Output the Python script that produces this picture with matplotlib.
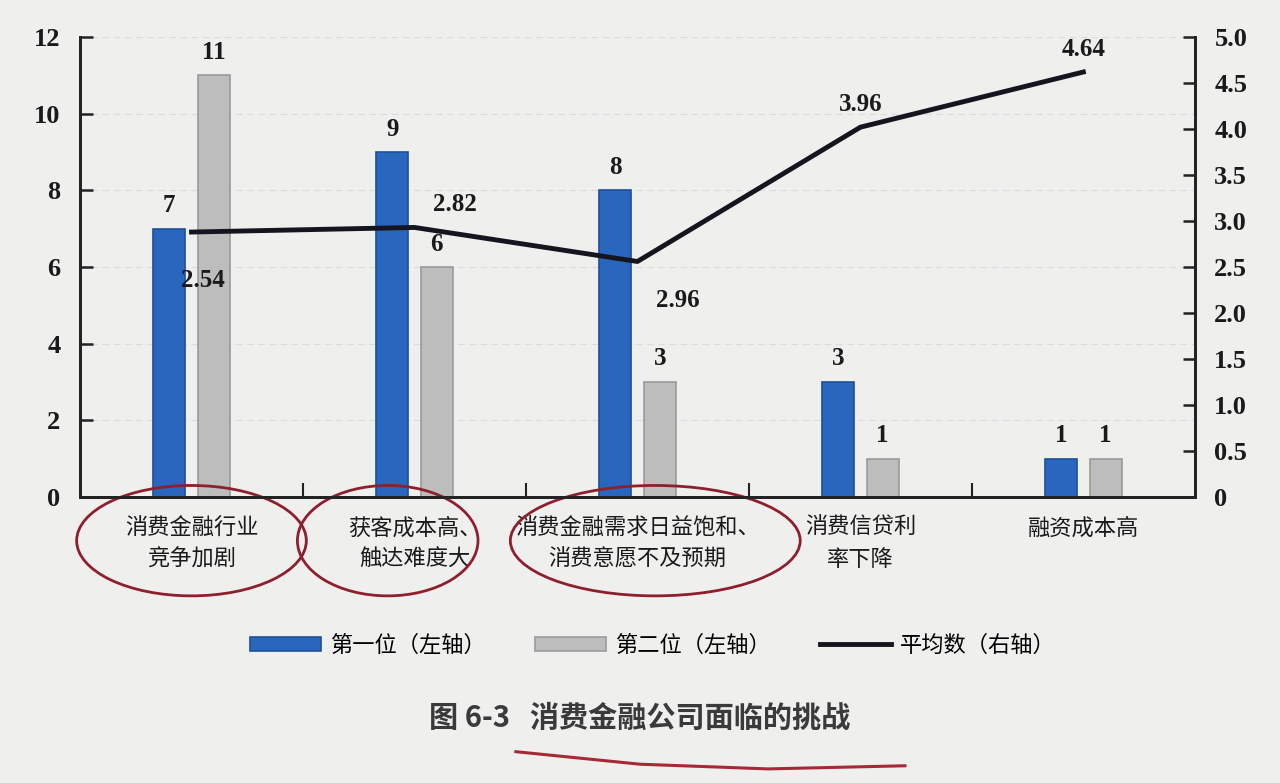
import matplotlib.pyplot as plt
import numpy as np
from matplotlib.patches import Ellipse
from matplotlib.ticker import FuncFormatter
import matplotlib.transforms as mtransforms

plt.rcParams['font.family'] = ['Noto Sans CJK SC', 'DejaVu Sans']

# data
categories = ["消费金融行业\n竞争加剧", "获客成本高、\n触达难度大",
              "消费金融需求日益饱和、\n消费意愿不及预期", "消费信贷利\n率下降", "融资成本高"]
first = [7, 9, 8, 3, 1]
second = [11, 6, 3, 1, 1]
avg = [2.88, 2.93, 2.56, 4.02, 4.62]
avg_labels = ["2.54", "2.82", "2.96", "3.96", "4.64"]

num_font = ['Liberation Serif', 'Noto Sans CJK SC']
bg = "#efefee"

fig = plt.figure(figsize=(12.8, 7.83), dpi=100, facecolor=bg)
ax = fig.add_axes([0.0625, 0.3653, 0.871, 0.5874])
ax.set_facecolor(bg)
ax2 = ax.twinx()

x = np.arange(len(categories))
w = 0.145
b1 = ax.bar(x - 0.1, first, w, color="#2867bd", edgecolor="#1d4f9c", linewidth=1.2,
            label="第一位（左轴）", zorder=2)
b2 = ax.bar(x + 0.1, second, w, color="#bdbdbd", edgecolor="#9a9a9a", linewidth=1.2,
            label="第二位（左轴）", zorder=2)

for i in range(len(x)):
    ax.text(x[i] - 0.1, first[i] + 0.3, str(first[i]), ha="center", va="bottom",
            family=num_font, fontsize=18, fontweight="bold", color="#1a1a1a")
    ax.text(x[i] + 0.1, second[i] + 0.3, str(second[i]), ha="center", va="bottom",
            family=num_font, fontsize=18, fontweight="bold", color="#1a1a1a")

ln, = ax2.plot(x, avg, color="#15151f", linewidth=3.5, label="平均数（右轴）", zorder=3)

# line labels as printed
offs = [(0.05, -0.4), (0.18, 0.12), (0.18, -0.3), (0.0, 0.12), (0.0, 0.12)]
for i in range(len(x)):
    ax2.text(x[i] + offs[i][0], avg[i] + offs[i][1], avg_labels[i], ha="center",
             va="bottom" if offs[i][1] > 0 else "top",
             family=num_font, fontsize=18, fontweight="bold", color="#1a1a1a")

ax.set_xlim(-0.5, 4.5)
ax.set_ylim(0, 12)
ax2.set_ylim(0, 5)
ax.set_yticks(range(0, 13, 2))
ax2.set_yticks(np.arange(0, 5.01, 0.5))
ax2.yaxis.set_major_formatter(FuncFormatter(lambda v, p: "0" if v == 0 else "%.1f" % v))

ax.set_xticks(x)
ax.set_xticklabels(categories, fontsize=16, fontweight="medium", color="#1a1a1a",
                   linespacing=1.45)
ax.set_xticks([0.5, 1.5, 2.5, 3.5], minor=True)
ax.tick_params(axis="x", which="major", length=0, pad=14)
ax.tick_params(axis="x", which="minor", direction="in", length=10, width=1.5, color="#222222")
ax.tick_params(axis="y", direction="in", length=9, width=1.8, color="#222222", pad=14)
ax2.tick_params(axis="y", direction="in", length=9, width=1.8, color="#222222", pad=14)
for lab in ax.get_yticklabels() + ax2.get_yticklabels():
    lab.set_family(num_font)
    lab.set_fontsize(19)
    lab.set_fontweight("bold")
    lab.set_color("#1a1a1a")

for a in (ax, ax2):
    a.spines["top"].set_visible(False)
    for s in ("left", "right", "bottom"):
        a.spines[s].set_linewidth(2)
        a.spines[s].set_color("#222222")

ax.yaxis.grid(True, linestyle=(0, (6, 4)), color="#dcdcdc", linewidth=0.8, zorder=0)
ax.set_axisbelow(True)

# hand-drawn red circles
trans = mtransforms.blended_transform_factory(ax.transData, ax.transAxes)
for cx, ew in [(0.0, 1.03), (0.88, 0.81), (2.08, 1.3)]:
    ax.add_patch(Ellipse((cx, -0.095), ew, 0.24, transform=trans, fill=False,
                         edgecolor="#8e1f2c", linewidth=2, clip_on=False, zorder=5))

leg = fig.legend(handles=[b1, b2, ln], loc="center", bbox_to_anchor=(0.51, 0.176), ncol=3,
                 frameon=False, fontsize=16, handlelength=3.2, handleheight=0.6,
                 columnspacing=2.2, handletextpad=0.4)
for t in leg.get_texts():
    t.set_fontweight("medium")

fig.text(0.5, 0.083, "图 6-3   消费金融公司面临的挑战", ha="center", va="center",
         fontsize=21, fontweight="bold", color="#3a3a3a")
fig.add_artist(plt.Line2D([0.403, 0.5, 0.6, 0.707], [0.04, 0.024, 0.018, 0.022],
                          color="#a52a35", linewidth=2.2))

fig.savefig("out.png", dpi=100, facecolor=bg)
